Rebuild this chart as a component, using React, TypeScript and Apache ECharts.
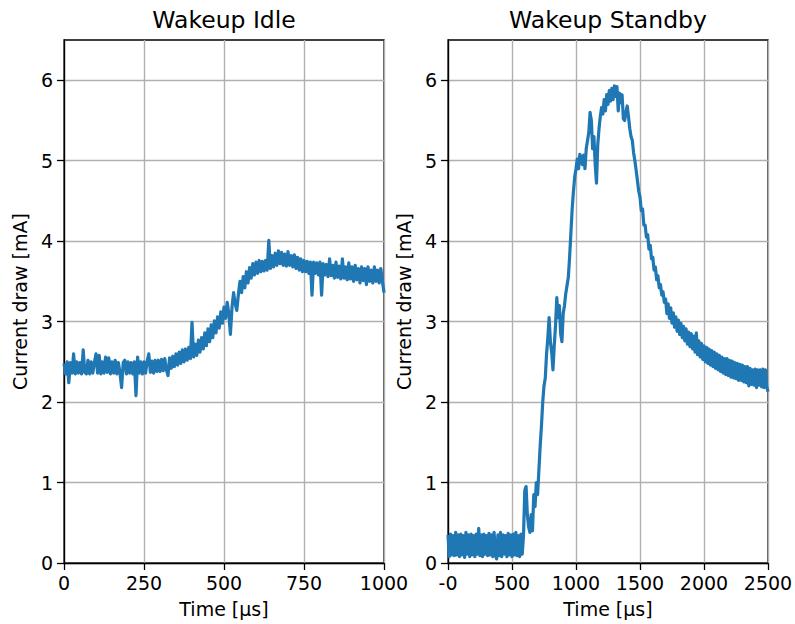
import React, { useEffect, useRef } from "react";
import * as echarts from "echarts";

// Sample spacing of each trace, in µs
const IDLE_STEP_US = 5;
const STANDBY_STEP_US = 10;

// Wakeup Idle: current draw [mA] sampled every 5 µs from 0 to 1000 µs
const idleCurrent: number[] = [
  2.48, 2.35, 2.50, 2.24, 2.49, 2.36, 2.60, 2.35, 2.50, 2.36,
  2.49, 2.35, 2.65, 2.37, 2.35, 2.52, 2.35, 2.50, 2.36, 2.49,
  2.60, 2.36, 2.58, 2.35, 2.50, 2.36, 2.56, 2.37, 2.55, 2.35,
  2.50, 2.36, 2.52, 2.35, 2.49, 2.36, 2.18, 2.49, 2.52, 2.35,
  2.50, 2.36, 2.49, 2.35, 2.50, 2.08, 2.56, 2.36, 2.50, 2.35,
  2.50, 2.36, 2.51, 2.60, 2.37, 2.51, 2.36, 2.52, 2.38, 2.52,
  2.38, 2.53, 2.39, 2.54, 2.40, 2.33, 2.55, 2.42, 2.57, 2.44,
  2.60, 2.46, 2.62, 2.48, 2.65, 2.50, 2.66, 2.52, 2.68, 2.54,
  2.99, 2.56, 2.72, 2.58, 2.77, 2.62, 2.80, 2.66, 2.86, 2.70,
  2.91, 2.75, 2.96, 2.80, 3.01, 2.86, 3.06, 2.92, 3.12, 2.98,
  3.18, 3.04, 3.24, 3.10, 2.84, 3.18, 3.36, 3.22, 3.14, 3.34,
  3.50, 3.36, 3.56, 3.42, 3.62, 3.48, 3.67, 3.54, 3.72, 3.58,
  3.74, 3.60, 3.76, 3.62, 3.75, 3.63, 3.76, 3.64, 4.01, 3.66,
  3.82, 3.68, 3.85, 3.70, 3.88, 3.72, 3.86, 3.70, 3.84, 3.69,
  3.87, 3.70, 3.82, 3.68, 3.83, 3.66, 3.80, 3.64, 3.78, 3.62,
  3.76, 3.62, 3.75, 3.60, 3.74, 3.33, 3.74, 3.60, 3.73, 3.58,
  3.74, 3.33, 3.72, 3.58, 3.71, 3.56, 3.78, 3.57, 3.70, 3.54,
  3.74, 3.55, 3.69, 3.53, 3.78, 3.54, 3.68, 3.52, 3.73, 3.53,
  3.68, 3.50, 3.70, 3.52, 3.66, 3.48, 3.68, 3.51, 3.66, 3.46,
  3.68, 3.50, 3.64, 3.48, 3.68, 3.50, 3.64, 3.48, 3.66, 3.50,
  3.36,
];

// Wakeup Standby: current draw [mA] sampled every 10 µs from 0 to 2500 µs
const standbyCurrent: number[] = [
  0.35, 0.08, 0.36, 0.10, 0.34, 0.09, 0.38, 0.10, 0.35, 0.08,
  0.36, 0.10, 0.34, 0.07, 0.38, 0.11, 0.35, 0.08, 0.36, 0.10,
  0.34, 0.08, 0.36, 0.11, 0.43, 0.09, 0.35, 0.08, 0.36, 0.11,
  0.34, 0.09, 0.37, 0.10, 0.35, 0.08, 0.38, 0.10, 0.05, 0.35,
  0.09, 0.38, 0.08, 0.35, 0.11, 0.34, 0.08, 0.37, 0.10, 0.35,
  0.08, 0.36, 0.10, 0.38, 0.09, 0.34, 0.08, 0.36, 0.11, 0.35,
  0.90, 0.95, 0.60, 0.45, 0.38, 0.60, 0.40, 0.85, 0.70, 1.00,
  0.85, 1.15, 1.45, 1.70, 2.00, 2.20, 2.30, 2.60, 2.80, 3.05,
  2.75, 2.62, 2.40, 2.70, 2.95, 3.30, 3.05, 3.20, 2.85, 2.75,
  3.10, 3.20, 3.35, 3.45, 3.55, 3.80, 4.10, 4.40, 4.62, 4.80,
  4.90, 5.02, 4.90, 5.08, 5.04, 4.95, 5.07, 4.90, 5.15, 5.25,
  5.35, 5.60, 5.50, 5.15, 5.30, 4.95, 4.72, 5.20, 5.40, 5.55,
  5.66, 5.58, 5.76, 5.62, 5.82, 5.70, 5.87, 5.74, 5.90, 5.76,
  5.93, 5.80, 5.92, 5.62, 5.84, 5.72, 5.82, 5.52, 5.50, 5.60,
  5.68, 5.55, 5.40, 5.30, 5.25, 5.10, 5.00, 4.88, 4.75, 4.62,
  4.55, 4.38, 4.40, 4.20, 4.20, 4.05, 4.08, 3.90, 3.95, 3.78,
  3.80, 3.64, 3.68, 3.52, 3.57, 3.42, 3.46, 3.33, 3.37, 3.24,
  3.28, 3.10, 3.22, 3.04, 3.17, 2.98, 3.11, 2.93, 3.06, 2.88,
  3.02, 2.84, 2.98, 2.80, 2.94, 2.76, 2.91, 2.72, 2.87, 2.69,
  2.85, 2.66, 2.82, 2.62, 2.86, 2.59, 2.76, 2.56, 2.73, 2.53,
  2.70, 2.50, 2.68, 2.48, 2.66, 2.46, 2.64, 2.44, 2.62, 2.42,
  2.60, 2.40, 2.58, 2.38, 2.56, 2.36, 2.54, 2.34, 2.54, 2.33,
  2.52, 2.31, 2.51, 2.30, 2.49, 2.29, 2.48, 2.27, 2.47, 2.27,
  2.46, 2.25, 2.44, 2.24, 2.44, 2.20, 2.42, 2.22, 2.40, 2.21,
  2.41, 2.18, 2.40, 2.21, 2.40, 2.19, 2.41, 2.18, 2.40, 2.19,
  2.13,
];

const titles = ["Wakeup Idle", "Wakeup Standby"];
const idleXTicks = [0, 250, 500, 750, 1000];
const standbyXTicks = [0, 500, 1000, 1500, 2000, 2500];
const yTicks = [0, 1, 2, 3, 4, 5, 6];
const xName = "Time [µs]";
const yName = "Current draw [mA]";

const FONT = "DejaVu Sans";
const LINE_COLOR = "#1f77b4";

export default function App() {
  const ref = useRef<HTMLDivElement>(null);

  useEffect(() => {
    if (!ref.current) return;
    const chart = echarts.init(ref.current, undefined, { renderer: "svg" });

    const idleData = idleCurrent.map((v, i) => [i * IDLE_STEP_US, v]);
    const standbyData = standbyCurrent.map((v, i) => [i * STANDBY_STEP_US, v]);

    const grids = [
      { left: 64, right: 795 - 384, top: 40, bottom: 624 - 563 },
      { left: 448, right: 795 - 768, top: 40, bottom: 624 - 563 },
    ].map((g) => ({
      ...g,
      show: true,
      borderColor: "#000",
      borderWidth: 1.3,
      backgroundColor: "transparent",
      containLabel: false,
      outerBoundsMode: "none",
    }));

    const axisText = { color: "#000", fontFamily: FONT, fontSize: 19 };

    const makeX = (gridIndex: number, max: number, interval: number, ticks: number[], negZero: boolean) => ({
      type: "value",
      gridIndex,
      min: 0,
      max,
      interval,
      name: xName,
      nameLocation: "middle",
      nameGap: 36,
      nameTextStyle: { ...axisText },
      axisLine: { show: true, onZero: false, lineStyle: { color: "#000", width: 1.3 } },
      axisTick: { show: true, inside: false, length: 7, customValues: ticks, lineStyle: { color: "#000", width: 1.3 } },
      axisLabel: {
        ...axisText,
        margin: 10,
        customValues: ticks,
        showMaxLabel: true,
        showMinLabel: true,
        formatter: (v: number) => (negZero && v === 0 ? "-0" : String(v)),
      },
      splitLine: { show: true, lineStyle: { color: "#b0b0b0", width: 1.4 } },
    });

    const makeY = (gridIndex: number) => ({
      type: "value",
      gridIndex,
      min: 0,
      max: 6.5,
      interval: 1,
      name: yName,
      nameLocation: "middle",
      nameGap: 35,
      nameTextStyle: { ...axisText },
      axisLine: { show: true, onZero: false, lineStyle: { color: "#000", width: 1.3 } },
      axisTick: { show: true, inside: false, length: 7, customValues: yTicks, lineStyle: { color: "#000", width: 1.3 } },
      axisLabel: { ...axisText, margin: 11, customValues: yTicks, formatter: (v: number) => String(v) },
      splitLine: { show: true, lineStyle: { color: "#b0b0b0", width: 1.4 } },
    });

    const titleStyle = { fontFamily: FONT, fontSize: 23.5, fill: "#000", textAlign: "center", textVerticalAlign: "middle" };

    chart.setOption({
      animation: false,
      backgroundColor: "#fff",
      grid: grids,
      xAxis: [
        makeX(0, 1000, 250, idleXTicks, false),
        makeX(1, 2500, 500, standbyXTicks, true),
      ],
      yAxis: [makeY(0), makeY(1)],
      graphic: [
        { type: "text", x: 224, y: 20, style: { ...titleStyle, text: titles[0] } },
        { type: "text", x: 608, y: 20, style: { ...titleStyle, text: titles[1] } },
      ],
      series: [
        {
          type: "line",
          xAxisIndex: 0,
          yAxisIndex: 0,
          data: idleData,
          showSymbol: false,
          symbol: "none",
          lineStyle: { color: LINE_COLOR, width: 3.2, join: "round" },
          clip: true,
        },
        {
          type: "line",
          xAxisIndex: 1,
          yAxisIndex: 1,
          data: standbyData,
          showSymbol: false,
          symbol: "none",
          lineStyle: { color: LINE_COLOR, width: 3.2, join: "round" },
          clip: true,
        },
      ],
    });

    return () => chart.dispose();
  }, []);

  return <div ref={ref} style={{ width: 795, height: 624, position: "absolute", left: 0, top: 0 }} />;
}
